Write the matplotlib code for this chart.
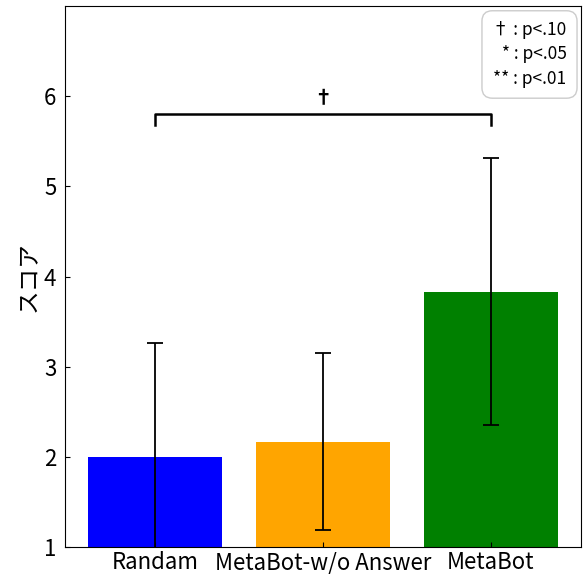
import matplotlib
matplotlib.use("Agg")
import matplotlib.pyplot as plt

plt.rcParams['font.family'] = ['Noto Sans CJK JP', 'DejaVu Sans']

categories = ["Randam", "MetaBot-w/o Answer", "MetaBot"]
means = [2.0, 2.17, 3.83]
stds = [1.26, 0.98, 1.48]
colors = ["blue", "orange", "green"]
ylabel = "スコア"
sig_text = "†"
legend_text = "† : p<.10\n * : p<.05\n** : p<.01"

fig = plt.figure(figsize=(5.84, 5.74), dpi=100)
ax = fig.add_axes([0.111, 0.047, 0.884, 0.9425])
x = list(range(len(categories)))
ax.bar(x, means, width=0.8, color=colors, yerr=stds, capsize=6,
       error_kw=dict(elinewidth=1.3, capthick=1.3, ecolor="black"))
ax.set_ylim(1, 7)
ax.set_yticks([1, 2, 3, 4, 5, 6])
ax.set_xticks(x)
ax.set_xticklabels(categories)
ax.tick_params(direction='in')
ax.tick_params(axis='x', labelsize=16, pad=3)
ax.tick_params(axis='y', labelsize=16, pad=6)
ax.set_ylabel(ylabel, fontsize=17, labelpad=2)

# significance bracket
y0, h = 5.8, 0.12
ax.plot([x[0], x[0], x[2], x[2]], [y0 - h, y0, y0, y0 - h], color="black", lw=1.8)
ax.text((x[0] + x[2]) / 2, y0 + 0.07, sig_text, ha="center", va="bottom",
        fontsize=14, fontweight="bold")

ax.text(0.972, 0.972, legend_text, transform=ax.transAxes, ha="right", va="top",
        fontsize=12.5, linespacing=1.45,
        bbox=dict(boxstyle="round,pad=0.6", fc="white", ec="#cccccc"))

fig.savefig("out.png", dpi=100)
